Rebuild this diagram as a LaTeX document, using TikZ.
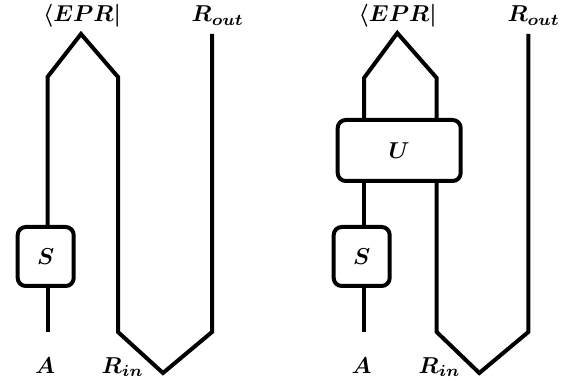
\documentclass[tikz,border=0pt]{standalone}
\usepackage{amsmath}
\usepackage{graphicx}
\newcommand{\bigmath}[1]{\scalebox{2.3}{\boldmath$#1$}}
\begin{document}
\begin{tikzpicture}[x=1pt,y=-1pt,
  wire/.style={line width=4pt,line join=miter,line cap=butt},
  gate/.style={draw,line width=4pt,rounded corners=8pt,inner sep=0pt},
  lbl/.style={inner sep=0pt}]
\useasboundingbox (0,0) rectangle (573,387);
% ---------- left diagram ----------
\node[gate,minimum width=56pt,minimum height=59pt] (S1) at (45.7,256.5) {\bigmath{S}};
\coordinate (A1) at (47.5,332);
\coordinate (L1top) at (47.5,77);
\coordinate (E1) at (81,34);
\coordinate (R1top) at (118,77);
\coordinate (R1bot) at (118,332);
\coordinate (B1) at (163,373);
\coordinate (O1bot) at (212,332);
\coordinate (O1top) at (212,34);
\draw[wire] (A1) -- (S1.south -| A1);
\draw[wire] (S1.north -| A1) -- (L1top) -- (E1) -- (R1top) -- (R1bot) -- (B1) -- (O1bot) -- (O1top);
\node[lbl,anchor=base] (epr1) at (82,22) {\bigmath{\langle EPR|}};
\node[lbl,anchor=base west] (rout1) at (191.5,22) {\bigmath{R_{out}}};
\node[lbl,anchor=base] (a1l) at (45,373) {\bigmath{A}};
\node[lbl,anchor=base west] (rin1) at (101.5,373) {\bigmath{R_{in}}};
% ---------- right diagram ----------
\node[gate,minimum width=56pt,minimum height=59pt] (S2) at (361.7,256.5) {\bigmath{S}};
\node[gate,minimum width=123pt,minimum height=61pt] (U) at (399.2,150.5) {\bigmath{U}};
\coordinate (A2) at (364,332);
\coordinate (L2top) at (364,78);
\coordinate (E2) at (397.3,33);
\coordinate (R2top) at (436.7,78);
\coordinate (R2bot) at (436.7,332);
\coordinate (B2) at (479.3,373);
\coordinate (O2bot) at (528.3,332);
\coordinate (O2top) at (528.3,34);
\draw[wire] (A2) -- (S2.south -| A2);
\draw[wire] (S2.north -| A2) -- (U.south -| A2);
\draw[wire] (U.north -| A2) -- (L2top) -- (E2) -- (R2top) -- (U.north -| R2top);
\draw[wire] (U.south -| R2bot) -- (R2bot) -- (B2) -- (O2bot) -- (O2top);
\node[lbl,anchor=base] (epr2) at (397.7,22) {\bigmath{\langle EPR|}};
\node[lbl,anchor=base west] (rout2) at (507.3,22) {\bigmath{R_{out}}};
\node[lbl,anchor=base] (a2l) at (361.7,373) {\bigmath{A}};
\node[lbl,anchor=base west] (rin2) at (418.3,373) {\bigmath{R_{in}}};
\end{tikzpicture}
\end{document}
